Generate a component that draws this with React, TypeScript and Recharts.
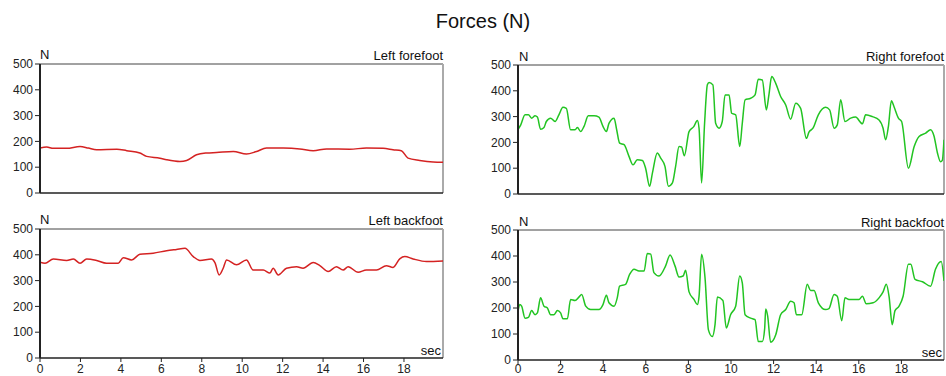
import React from 'react';
import { LineChart, Line, XAxis, YAxis, ReferenceLine } from 'recharts';

const FONT = '"Liberation Sans", Arial, Helvetica, sans-serif';
const RED = '#d42222';
const GREEN = '#22c422';

const yTicks = [0, 100, 200, 300, 400, 500];
const xTicks = [0, 2, 4, 6, 8, 10, 12, 14, 16, 18];
const titleText = 'Forces (N)';
const unitY = 'N';
const unitX = 'sec';

const lfTime = [0, 0.33, 0.66, 1.32, 1.98, 2.39, 2.8, 3.8, 4.29, 4.94, 5.27, 5.93, 6.26, 6.92, 7.25, 7.74, 8.24, 8.73, 9.56, 10.21, 10.71, 11.2, 12.03, 12.85, 13.51, 14.17, 15.32, 16.14, 16.97, 17.46, 17.87, 18.2, 18.78, 19.44, 19.93];
const lfForce = [174, 178, 173, 173, 180, 174, 168, 170, 164, 155, 142, 135, 129, 122, 126, 148, 155, 157, 161, 151, 161, 174, 174, 171, 164, 171, 170, 174, 173, 168, 164, 135, 126, 120, 119];

const lbTime = [0, 0.25, 0.66, 1.32, 1.65, 1.98, 2.31, 2.8, 3.29, 3.87, 4.12, 4.53, 4.94, 5.6, 6.26, 6.75, 7.17, 7.58, 7.91, 8.48, 8.65, 8.86, 9.06, 9.23, 9.72, 10.21, 10.54, 11.04, 11.37, 11.53, 11.78, 12.19, 12.69, 13.01, 13.51, 13.84, 14.25, 14.66, 14.99, 15.24, 15.73, 16.14, 16.64, 17.13, 17.46, 17.79, 18.04, 18.45, 19.11, 19.93];
const lbForce = [371, 367, 384, 378, 384, 367, 384, 378, 367, 367, 389, 380, 402, 406, 416, 421, 425, 393, 378, 384, 370, 322, 348, 380, 361, 380, 341, 341, 329, 348, 322, 348, 354, 348, 370, 358, 335, 354, 341, 354, 332, 341, 341, 358, 351, 384, 393, 384, 374, 376];

const rfTime = [0, 0.13, 0.33, 0.49, 0.64, 0.8, 0.91, 1.06, 1.22, 1.33, 1.53, 1.74, 1.92, 2.11, 2.27, 2.47, 2.68, 2.79, 2.94, 3.1, 3.3, 3.57, 3.8, 3.99, 4.15, 4.27, 4.51, 4.63, 4.77, 4.98, 5.21, 5.4, 5.6, 5.84, 5.99, 6.18, 6.31, 6.54, 6.7, 6.9, 7.06, 7.25, 7.4, 7.56, 7.68, 7.81, 8.03, 8.26, 8.42, 8.5, 8.62, 8.76, 8.89, 8.97, 9.15, 9.28, 9.44, 9.59, 9.72, 9.91, 10.03, 10.22, 10.41, 10.53, 10.66, 10.92, 11.13, 11.28, 11.47, 11.66, 11.78, 11.91, 12.1, 12.33, 12.57, 12.8, 13.04, 13.27, 13.54, 13.66, 13.85, 14.1, 14.44, 14.63, 14.84, 14.99, 15.15, 15.35, 15.62, 15.85, 16.17, 16.32, 16.64, 16.95, 17.14, 17.26, 17.39, 17.53, 17.65, 17.86, 18.01, 18.33, 18.6, 18.83, 19.14, 19.37, 19.53, 19.69, 19.84, 19.92, 20];
const rfForce = [250, 268, 307, 307, 294, 303, 298, 251, 258, 281, 294, 281, 307, 336, 332, 249, 249, 258, 242, 262, 303, 303, 298, 262, 242, 274, 294, 250, 197, 191, 146, 113, 133, 130, 100, 30, 81, 159, 139, 107, 30, 43, 107, 184, 182, 148, 242, 262, 285, 255, 43, 274, 423, 432, 423, 274, 255, 281, 384, 384, 313, 307, 184, 274, 365, 371, 384, 445, 442, 326, 384, 455, 429, 378, 345, 290, 352, 332, 216, 240, 255, 307, 336, 326, 255, 268, 365, 281, 294, 298, 272, 307, 300, 287, 255, 210, 262, 361, 339, 294, 281, 100, 184, 223, 236, 249, 225, 160, 125, 130, 210];

const rbTime = [0, 0.08, 0.17, 0.33, 0.49, 0.64, 0.8, 0.91, 1.06, 1.22, 1.38, 1.53, 1.69, 1.85, 2.0, 2.11, 2.32, 2.47, 2.68, 2.86, 2.99, 3.18, 3.41, 3.8, 3.99, 4.15, 4.27, 4.51, 4.66, 4.77, 5.05, 5.24, 5.45, 5.68, 5.92, 6.07, 6.23, 6.38, 6.62, 6.93, 7.14, 7.37, 7.56, 7.75, 7.87, 8.03, 8.26, 8.42, 8.5, 8.62, 8.78, 8.94, 9.12, 9.25, 9.36, 9.62, 9.78, 9.98, 10.22, 10.41, 10.53, 10.66, 10.92, 11.13, 11.28, 11.47, 11.58, 11.63, 11.72, 11.86, 12.1, 12.33, 12.57, 12.8, 12.96, 13.07, 13.32, 13.58, 13.74, 13.9, 14.1, 14.44, 14.6, 14.84, 14.99, 15.2, 15.35, 15.54, 16.01, 16.17, 16.35, 16.67, 16.95, 17.14, 17.29, 17.42, 17.57, 17.7, 17.89, 18.08, 18.33, 18.44, 18.64, 18.99, 19.37, 19.6, 19.87, 20];
const rbForce = [187, 213, 207, 161, 164, 190, 174, 181, 239, 207, 200, 174, 174, 190, 181, 159, 159, 233, 229, 242, 252, 207, 194, 194, 213, 249, 220, 207, 239, 284, 291, 329, 349, 342, 342, 410, 407, 336, 323, 362, 404, 362, 319, 323, 345, 262, 233, 213, 245, 407, 317, 116, 90, 136, 242, 229, 123, 174, 207, 323, 297, 174, 161, 155, 71, 71, 120, 196, 170, 68, 97, 174, 194, 226, 220, 174, 174, 291, 267, 267, 220, 194, 198, 252, 245, 151, 239, 233, 233, 245, 216, 220, 239, 262, 291, 245, 136, 190, 207, 245, 368, 368, 310, 301, 284, 349, 379, 304];

const build = (t: number[], f: number[]) => t.map((v, i) => ({ t: v, f: f[i] }));

type PanelProps = {
  data: { t: number; f: number }[];
  color: string;
  left: number;
  top: number;
  width: number;
  height: number;
  yWidth: number;
  mTop: number;
  mRight: number;
  xHeight: number;
  xMax: number;
  showXTicks: boolean;
  xTickMargin: number;
};

function Panel(p: PanelProps) {
  const tickStyle = { fontSize: 12, fill: '#222', fontFamily: FONT };
  return (
    <div style={{ position: 'absolute', left: p.left, top: p.top }}>
      <LineChart
        width={p.width}
        height={p.height}
        data={p.data}
        margin={{ top: p.mTop, right: p.mRight, left: 0, bottom: 0 }}
      >
        <XAxis
          dataKey="t"
          type="number"
          domain={[0, p.xMax]}
          ticks={xTicks}
          allowDataOverflow
          height={p.xHeight}
          tick={p.showXTicks ? tickStyle : false}
          tickLine={p.showXTicks ? { stroke: '#222' } : false}
          tickSize={4}
          tickMargin={p.xTickMargin}
          axisLine={{ stroke: '#222', strokeWidth: 1.5 }}
        />
        <YAxis
          domain={[0, 500]}
          ticks={yTicks}
          width={p.yWidth}
          tick={tickStyle}
          tickLine={{ stroke: '#222' }}
          tickSize={5}
          tickMargin={2}
          axisLine={{ stroke: '#222', strokeWidth: 2 }}
          allowDataOverflow
        />
        <ReferenceLine y={500} stroke="#444" strokeWidth={1} />
        <ReferenceLine x={p.xMax} stroke="#aaa" strokeWidth={2} />
        <Line
          type="monotone"
          dataKey="f"
          stroke={p.color}
          strokeWidth={1.5}
          dot={false}
          isAnimationActive={false}
        />
      </LineChart>
    </div>
  );
}

export default function App() {
  const lbl = { fontFamily: FONT, fontSize: 13, fill: '#111' } as const;
  return (
    <div style={{ position: 'absolute', left: 0, top: 0, width: 946, height: 376, background: '#fff', overflow: 'hidden' }}>
      <Panel data={build(lfTime, lfForce)} color={RED} left={0} top={50} width={460} height={160} yWidth={40} mTop={14} mRight={17} xHeight={17} xMax={19.93} showXTicks={false} xTickMargin={2} />
      <Panel data={build(lbTime, lbForce)} color={RED} left={0} top={215} width={460} height={161} yWidth={40} mTop={14} mRight={17} xHeight={18} xMax={19.93} showXTicks={true} xTickMargin={2} />
      <Panel data={build(rfTime, rfForce)} color={GREEN} left={476} top={50} width={470} height={160} yWidth={42} mTop={15} mRight={2} xHeight={16} xMax={20} showXTicks={false} xTickMargin={1} />
      <Panel data={build(rbTime, rbForce)} color={GREEN} left={476} top={215} width={470} height={161} yWidth={42} mTop={15} mRight={2} xHeight={16} xMax={20} showXTicks={true} xTickMargin={0} />
      <svg width={946} height={376} style={{ position: 'absolute', left: 0, top: 0, pointerEvents: 'none' }}>
        <text x={483} y={28} textAnchor="middle" style={{ fontFamily: FONT, fontSize: 20, fill: '#111' }}>{titleText}</text>
        <text x={40} y={59} {...lbl}>{unitY}</text>
        <text x={443} y={60} textAnchor="end" {...lbl}>Left forefoot</text>
        <text x={40} y={224} {...lbl}>{unitY}</text>
        <text x={443} y={225} textAnchor="end" {...lbl}>Left backfoot</text>
        <text x={441} y={355} textAnchor="end" {...lbl}>{unitX}</text>
        <text x={519} y={61} {...lbl}>{unitY}</text>
        <text x={944} y={61} textAnchor="end" {...lbl}>Right forefoot</text>
        <text x={519} y={226} {...lbl}>{unitY}</text>
        <text x={944} y={227} textAnchor="end" {...lbl}>Right backfoot</text>
        <text x={942} y={357} textAnchor="end" {...lbl}>{unitX}</text>
      </svg>
    </div>
  );
}
